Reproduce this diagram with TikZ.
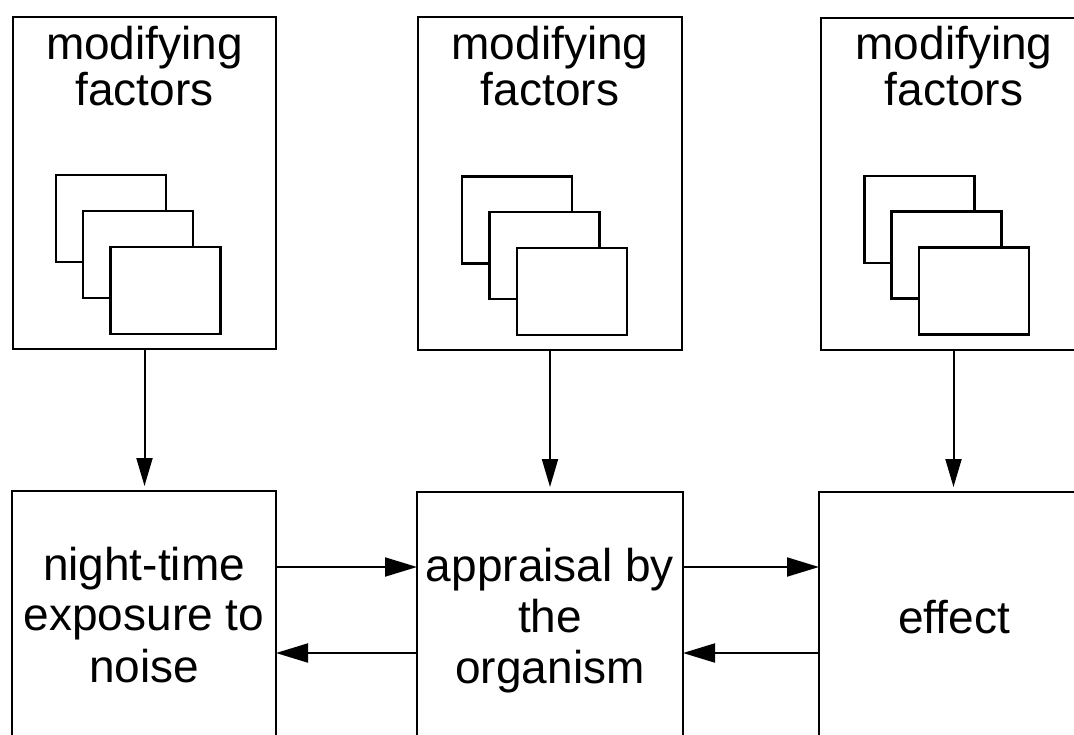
\documentclass[tikz,border=0pt]{standalone}
\usepackage{fontspec}
\setmainfont{Liberation Sans}
\usetikzlibrary{arrows.meta}
\tikzset{
  box/.style={draw=black, line width=2.2pt, fill=white, inner sep=0pt, outer sep=0pt, rectangle},
  card/.style={draw=black, line width=2.8pt, fill=white, inner sep=0pt, outer sep=0pt, rectangle, minimum width=110pt, minimum height=87pt},
  lbl/.style={anchor=base, inner sep=0pt, font=\fontsize{46}{50}\selectfont},
  varrow/.style={line width=2pt, -{Triangle[length=28pt, width=16pt]}, shorten >=5pt},
  harrow/.style={line width=2pt, -{Triangle[length=32pt, width=19pt]}},
}
\begin{document}
\begin{tikzpicture}[x=1pt, y=-1pt]
\useasboundingbox (0,0) rectangle (1074,734);
\clip (0,0) rectangle (1074,734);
\fill[white] (0,0) rectangle (1074,734);

% top boxes
\node[box, minimum width=263pt, minimum height=332pt] (tl) at (144.5,183) {};
\node[box, minimum width=264pt, minimum height=333pt] (tm) at (550,183.5) {};
\node[box, minimum width=265pt, minimum height=332pt] (tr) at (953.5,184) {};

% cards (left)
\node[card] (c11) at (111,218.5) {};
\node[card] (c12) at (138,254.5) {};
\node[card] (c13) at (165.5,290.5) {};
% cards (middle)
\node[card] (c21) at (517,220) {};
\node[card] (c22) at (544.5,255.5) {};
\node[card] (c23) at (572,291.5) {};
% cards (right)
\node[card] (c31) at (919.5,219.5) {};
\node[card] (c32) at (946.5,255) {};
\node[card] (c33) at (974,291) {};

% top labels
\node[lbl] (m1a) at (144.5,59) {modifying};
\node[lbl] (m1b) at (144.5,105) {factors};
\node[lbl] (m2a) at (550,59) {modifying};
\node[lbl] (m2b) at (550,105) {factors};
\node[lbl] (m3a) at (954,59) {modifying};
\node[lbl] (m3b) at (954,105) {factors};

% bottom boxes
\node[box, minimum width=264pt, minimum height=269pt] (bl) at (144,625.5) {};
\node[box, minimum width=266pt, minimum height=268pt] (bm) at (550,626) {};
\node[box, minimum width=267pt, minimum height=268pt] (br) at (952.5,626) {};

% bottom labels
\node[lbl] (n1) at (144,580) {night-time};
\node[lbl] (n2) at (144,630) {exposure to};
\node[lbl] (n3) at (144,682) {noise};
\node[lbl] (a1) at (550,581) {appraisal by};
\node[lbl] (a2) at (550,632) {the};
\node[lbl] (a3) at (550,683) {organism};
\node[lbl] (e1) at (954,633) {effect};

% connectors
\coordinate (up) at (0,567);
\coordinate (dn) at (0,653);

\draw[varrow] (tl.south) -- (tl.south |- bl.north);
\draw[varrow] (tm.south) -- (tm.south |- bm.north);
\draw[varrow] (tr.south) -- (tr.south |- br.north);
\draw[harrow] (bl.east |- up) -- (bm.west |- up);
\draw[harrow] (bm.west |- dn) -- (bl.east |- dn);
\draw[harrow] (bm.east |- up) -- (br.west |- up);
\draw[harrow] (br.west |- dn) -- (bm.east |- dn);
\end{tikzpicture}
\end{document}
